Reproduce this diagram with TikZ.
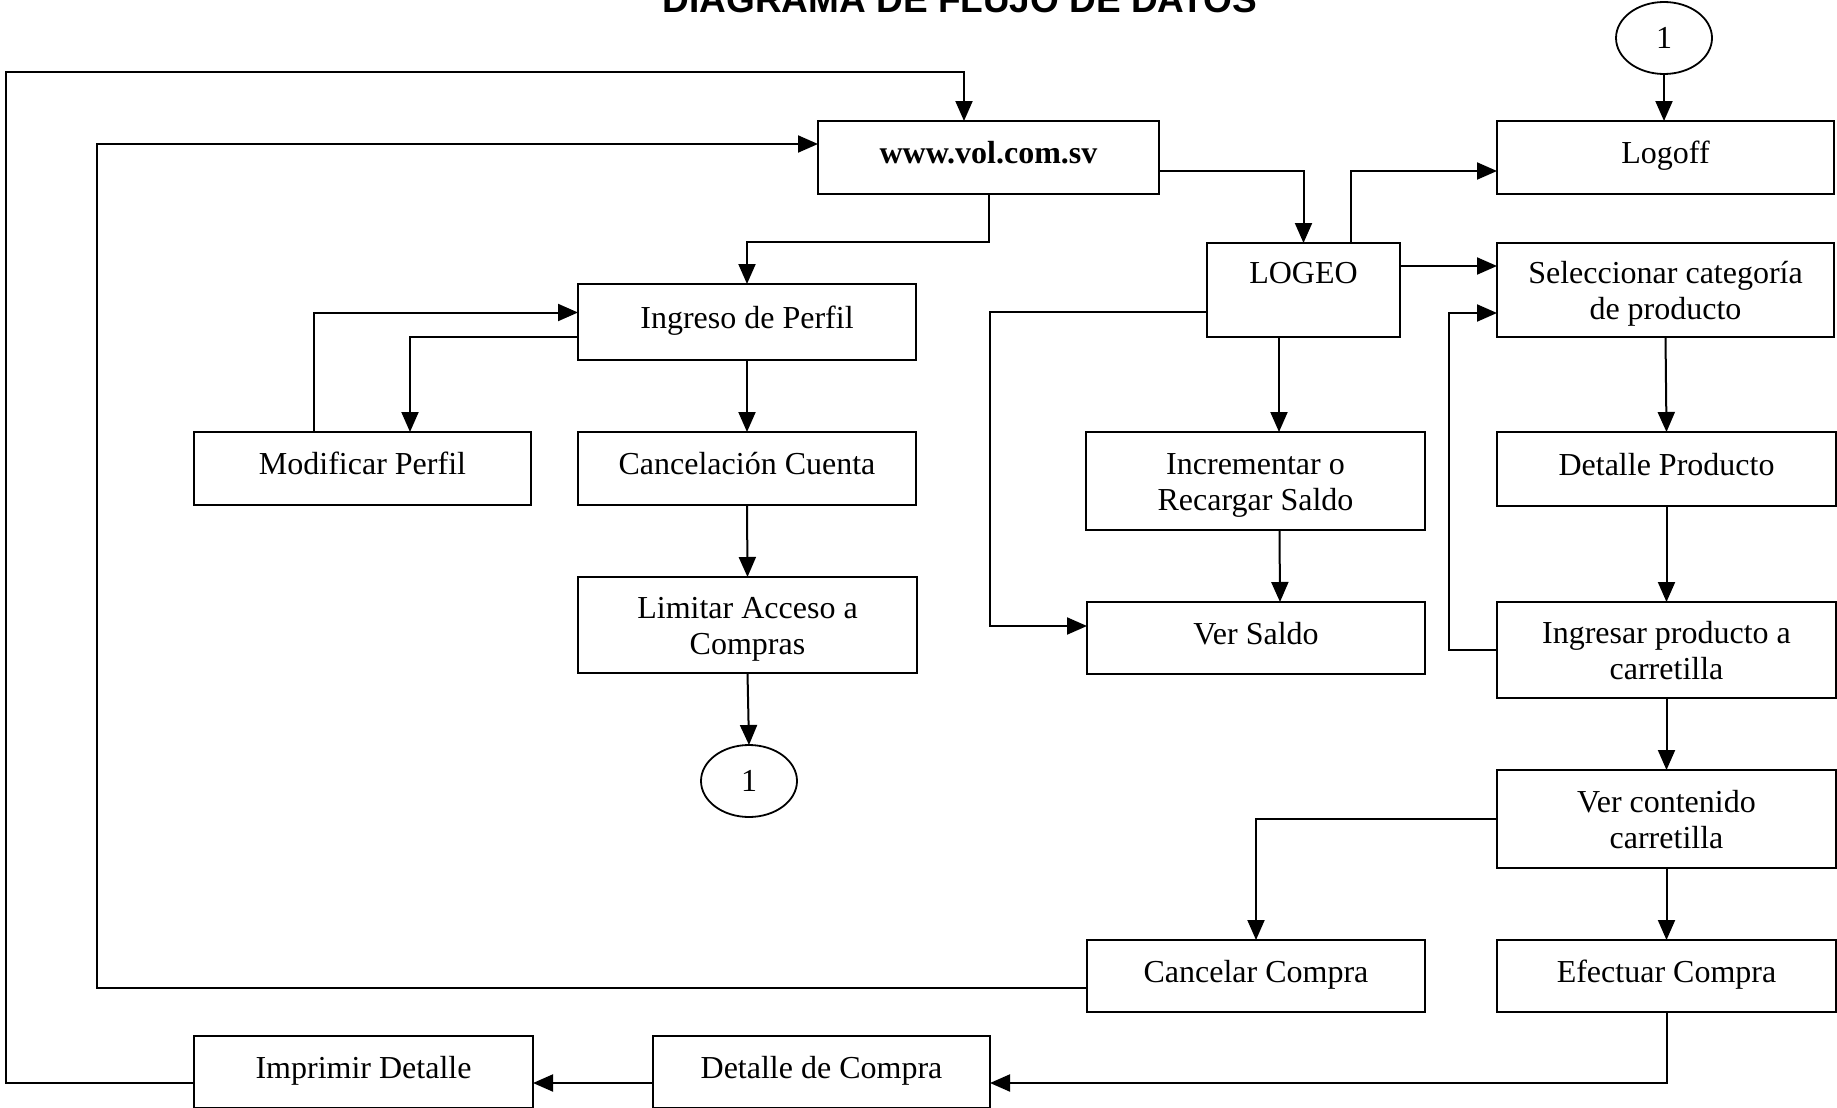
\documentclass[tikz,border=0pt]{standalone}
\usepackage{fontspec}
\setmainfont{Liberation Serif}
\newfontfamily\titlefont{Liberation Sans}
\usetikzlibrary{arrows.meta,shapes.geometric}
\newcommand\firstl{\rule{0pt}{22pt}}
\newcommand\lastl[1]{\smash{#1}}
\tikzset{
  box/.style={draw, line width=2.2pt, rectangle, inner sep=0pt, outer sep=0pt, align=center,
    font=\fontsize{32}{36}\selectfont},
  onel/.style={text height=22pt, text depth=10pt},
  conn/.style={ellipse, draw, line width=1.8pt, inner sep=0pt, outer sep=0pt,
    minimum width=96pt, minimum height=72pt, font=\fontsize{32}{36}\selectfont},
  arr/.style={-{Triangle[length=20pt,width=17pt]}, line width=2pt},
}
\begin{document}
\begin{tikzpicture}[x=1pt,y=-1pt]
\useasboundingbox[fill=white] (0,0) rectangle (1837,1108);
\node[anchor=base, font=\titlefont\bfseries\fontsize{37}{40}\selectfont] (title) at (960,13) {DIAGRAMA DE FLUJO DE DATOS};

% nodes
\node[conn] (c1top) at (1664,38) {1};
\node[box, onel, minimum width=341pt, minimum height=73pt] (www) at (988.5,157.5) {\textbf{www.vol.com.sv}};
\node[box, onel, minimum width=337pt, minimum height=73pt] (logoff) at (1665.5,157.5) {Logoff};
\node[box, text height=21pt, text depth=34pt, minimum width=193pt, minimum height=94pt] (logeo) at (1303.5,290) {LOGEO};
\node[box, minimum width=337pt, minimum height=94pt] (selec) at (1665.5,290) {\firstl Seleccionar categoría\\\lastl{de producto}};
\node[box, onel, minimum width=338pt, minimum height=76pt] (ingreso) at (747,322) {Ingreso de Perfil};
\node[box, onel, minimum width=337pt, minimum height=73pt] (modif) at (362.5,468.5) {Modificar Perfil};
\node[box, onel, minimum width=338pt, minimum height=73pt] (cancel) at (747,468.5) {Cancelación Cuenta};
\node[box, minimum width=339pt, minimum height=96pt] (limitar) at (747.5,625) {\firstl Limitar Acceso a\\\lastl{Compras}};
\node[conn] (c1bot) at (749,781) {1};
\node[box, minimum width=339pt, minimum height=98pt] (incr) at (1255.5,481) {\firstl Incrementar o\\\lastl{Recargar Saldo}};
\node[box, onel, minimum width=338pt, minimum height=72pt] (versaldo) at (1256,638) {Ver Saldo};
\node[box, onel, minimum width=339pt, minimum height=74pt] (detprod) at (1666.5,469) {Detalle Producto};
\node[box, minimum width=339pt, minimum height=96pt] (ingresar) at (1666.5,650) {\firstl Ingresar producto a\\\lastl{carretilla}};
\node[box, minimum width=339pt, minimum height=98pt] (vercont) at (1666.5,819) {\firstl Ver contenido\\\lastl{carretilla}};
\node[box, onel, minimum width=338pt, minimum height=72pt] (cancompra) at (1256,976) {Cancelar Compra};
\node[box, onel, minimum width=339pt, minimum height=72pt] (efectuar) at (1666.5,976) {Efectuar Compra};
\node[box, onel, minimum width=337pt, minimum height=72pt] (detcompra) at (821.5,1072) {Detalle de Compra};
\node[box, onel, minimum width=339pt, minimum height=72pt] (imprimir) at (363.5,1072) {Imprimir Detalle};

% connectors
\draw[arr] (c1top.south) -- (c1top.south |- logoff.north);
\draw[arr] ([yshift=-13pt]www.east) -| (logeo.north);
\draw[arr] ([xshift=47.5pt]logeo.north) |- ([yshift=-13.5pt]logoff.west);
\draw[arr] ([yshift=24pt]logeo.east) -- ([yshift=24pt]selec.west);
\draw[arr] (ingresar.west) -- ++(-48,0) |- ([yshift=-23pt]selec.west);
\draw[arr] (www.south) -- ++(0,48) -| (ingreso.north);
\draw[arr] (ingreso.south) -- (cancel.north);
\draw[arr] ([xshift=-48.5pt]modif.north) |- ([yshift=9.5pt]ingreso.west);
\draw[arr] ([yshift=-14.5pt]ingreso.west) -| ([xshift=47.5pt]modif.north);
\draw[arr] (cancel.south) -- (limitar.north);
\draw[arr] (limitar.south) -- (c1bot.north);
\draw[arr] ([xshift=-24.5pt]logeo.south) -- ([xshift=-24.5pt]logeo.south |- incr.north);
\draw[arr] ([yshift=-22pt]logeo.west) -- ++(-217,0) |- ([yshift=12pt]versaldo.west);
\draw[arr] ([xshift=24pt]incr.south) -- ([xshift=24pt]versaldo.north);
\draw[arr] (selec.south) -- (detprod.north);
\draw[arr] (detprod.south) -- (ingresar.north);
\draw[arr] (ingresar.south) -- (vercont.north);
\draw[arr] (vercont.west) -| (cancompra.north);
\draw[arr] (vercont.south) -- (efectuar.north);
\draw[arr] (efectuar.south) |- ([yshift=-11pt]detcompra.east);
\draw[arr] ([yshift=-11pt]detcompra.west) -- ([yshift=-11pt]imprimir.east);
\draw[arr] ([yshift=-11pt]imprimir.west) -- ++(-188,0) -- ++(0,-1011) -| ([xshift=-24.5pt]www.north);
\draw[arr] ([yshift=-12pt]cancompra.west) -- ++(-990,0) |- ([yshift=13.5pt]www.west);
\end{tikzpicture}
\end{document}
